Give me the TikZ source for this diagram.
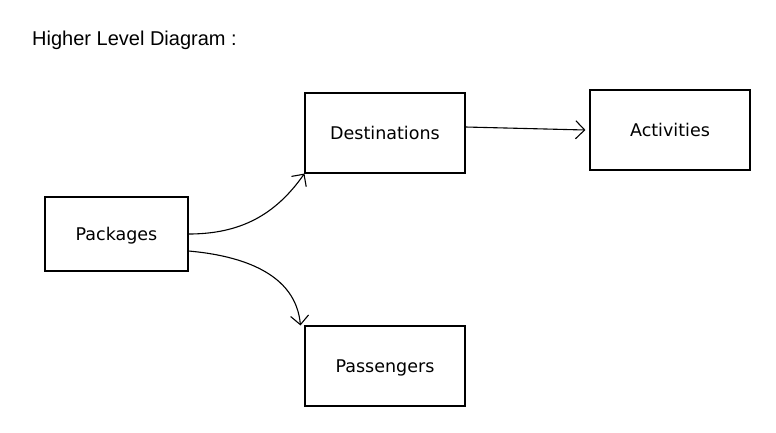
\documentclass[tikz,border=0pt]{standalone}
\usepackage{fontspec}
\setmainfont{DejaVu Sans}
\newfontfamily\titlefont{Liberation Sans}
\usetikzlibrary{positioning, arrows.meta}
\tikzset{x=1pt, y=-1pt, % One unit is one pixel of the sketch, y grows downwards
box/.style={ % Sets the properties for each block
draw, line width=1.1pt,
minimum width=160pt, minimum height=80pt,
text height=13pt, text depth=1pt, % Keeps the labels on the middle line
font=\fontsize{17.5}{20}\selectfont},
every edge/.style={ % Sets the properties for each link
draw, -{Straight Barb[length=9pt,width=18pt]}, line width=1.1pt}}

\begin{document}
\begin{tikzpicture}
    \useasboundingbox (0,0) rectangle (776,432);

    \node[anchor=west, inner sep=0pt, font=\titlefont\fontsize{20}{24}\selectfont] (title) at (32,40) {Higher Level Diagram :};

    \node[box, minimum width=143pt, minimum height=74pt] (pkg) at (116.5,234) {Packages};
    \node[box] (dest) at (385,133) {Destinations};
    \node[box] (act) at (670,130) {Activities};
    \node[box] (pass) at (385,366) {Passengers};

    \draw (pkg.east) edge[out=0, in=-125] (dest.south west);
    \draw ([yshift=-17pt]pkg.east) edge[out=-5, in=95] ([xshift=-4pt]pass.north west);
    \draw ([yshift=6pt]dest.east) edge ([xshift=-4pt]act.west);

\end{tikzpicture}
\end{document}
